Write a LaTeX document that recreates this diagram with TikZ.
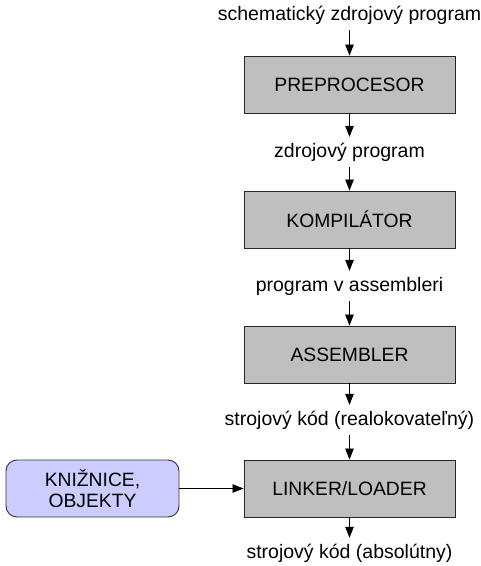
\documentclass[tikz,border=0pt]{standalone}
\usepackage{fontspec}
\setmainfont{Liberation Sans}
\usetikzlibrary{arrows.meta}
\begin{document}
\begin{tikzpicture}[x=1pt,y=-1pt,
  stage/.style={draw=black!85, line width=0.9pt, fill=black!25,
    minimum width=211pt, minimum height=57pt, inner sep=0pt,
    font=\fontsize{19.3}{22}\selectfont},
  lib/.style={draw=black!80, line width=0.9pt, fill={rgb,255:red,204;green,204;blue,255},
    rounded corners=11pt, minimum width=173pt, minimum height=57pt, inner sep=0pt,
    align=center, font=\fontsize{19.3}{20.5}\selectfont},
  flowtext/.style={inner sep=0pt, minimum height=30pt, font=\fontsize{19.5}{22}\selectfont},
  flow/.style={-{Triangle[length=11pt,width=8.5pt]}, line width=0.8pt}]
\useasboundingbox (0,0) rectangle (481,566);

% processing stages
\node[stage] (pre)  at (349.5,84.5)  {PREPROCESOR};
\node[stage] (comp) at (349.5,219.5) {KOMPILÁTOR};
\node[stage] (asm)  at (349.5,354.5) {ASSEMBLER};
\node[stage] (link) at (349.5,488.5) {LINKER/LOADER};

% external input
\node[lib] (libs) at (92.5,488.5) {KNIŽNICE,\\OBJEKTY};

% intermediate products
\node[flowtext] (src0) at (349.5,15)  {schematický zdrojový program};
\node[flowtext] (src)  at (349.5,152) {zdrojový program};
\node[flowtext] (asmsrc) at (349.5,286) {program v assembleri};
\node[flowtext] (reloc) at (349.5,420) {strojový kód (realokovateľný)};
\node[flowtext] (abs)  at (349.5,553) {strojový kód (absolútny)};

% connectors
\draw[flow] (src0) -- (pre);
\draw[flow] (pre) -- (src);
\draw[flow] (src) -- (comp);
\draw[flow] (comp) -- (asmsrc);
\draw[flow] (asmsrc) -- (asm);
\draw[flow] (asm) -- (reloc);
\draw[flow] (reloc) -- (link);
\draw[flow] (link) -- (abs);
\draw[flow] (libs) -- (link);
\end{tikzpicture}
\end{document}
